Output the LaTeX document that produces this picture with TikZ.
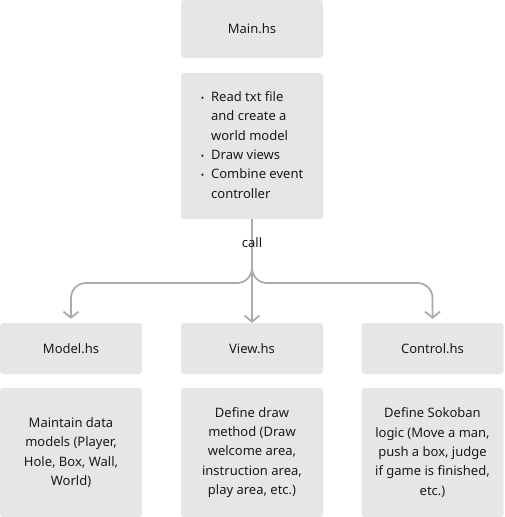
\documentclass[tikz,border=0pt]{standalone}
\usepackage{fontspec}
\setmainfont{Noto Sans}
\usetikzlibrary{arrows.meta}
\definecolor{boxfill}{HTML}{E6E6E6}
\definecolor{linegray}{HTML}{ABABAB}
\definecolor{txt}{HTML}{1A1A1A}
\tikzset{
  box/.style={fill=boxfill, draw=none, rounded corners=3pt, text=txt,
    font=\fontsize{13}{19.3}\selectfont, align=center, inner sep=0pt},
  conn/.style={draw=linegray, line width=1.8pt, rounded corners=15pt,
    -{Straight Barb[length=6pt,width=15pt,line width=1.8pt]}},
}
\begin{document}
\begin{tikzpicture}[x=1pt,y=1pt]
\useasboundingbox (0,0) rectangle (504,-517);
\node[box, minimum width=142pt, minimum height=58pt] (main) at (252,-29) {Main.hs};
\node[box, minimum width=142pt, minimum height=146pt] (desc) at (252,-146) {%
  \begin{tabular}{@{}l@{\hspace{7pt}}l@{}}
  {\small•} & Read txt file\\
   & and create a\\
   & world model\\
  {\small•} & Draw views\\
  {\small•} & Combine event\\
   & controller
  \end{tabular}};
\node[box, minimum width=142pt, minimum height=51pt] (model) at (71,-348.5) {Model.hs};
\node[box, minimum width=142pt, minimum height=51pt] (view) at (252,-348.5) {View.hs};
\node[box, minimum width=142pt, minimum height=51pt] (control) at (432.5,-348.5) {Control.hs};
\node[box, minimum width=142pt, minimum height=129pt] (modeld) at (71,-452.5) {Maintain data\\models (Player,\\Hole, Box, Wall,\\World)};
\node[box, minimum width=142pt, minimum height=129pt] (viewd) at (252,-452.5) {Define draw\\method (Draw\\welcome area,\\instruction area,\\play area, etc.)};
\node[box, minimum width=142pt, minimum height=129pt] (controld) at (432.5,-452.5) {Define Sokoban\\logic (Move a man,\\push a box, judge\\if game is finished,\\etc.)};
\coordinate (split) at (252,-262);
\draw[conn] (desc.south) -- (view.north);
\draw[conn] (split) |- ([yshift=-21pt]split -| model.north) -- ([yshift=4pt]model.north);
\draw[conn] (split) |- ([yshift=-21pt]split -| control.north) -- ([yshift=4pt]control.north);
\draw[conn, -] (desc.south) -- (split);
\node[text=txt, font=\fontsize{13}{15}\selectfont, inner sep=0pt] (calllbl) at (252,-243) {call};
\end{tikzpicture}
\end{document}
